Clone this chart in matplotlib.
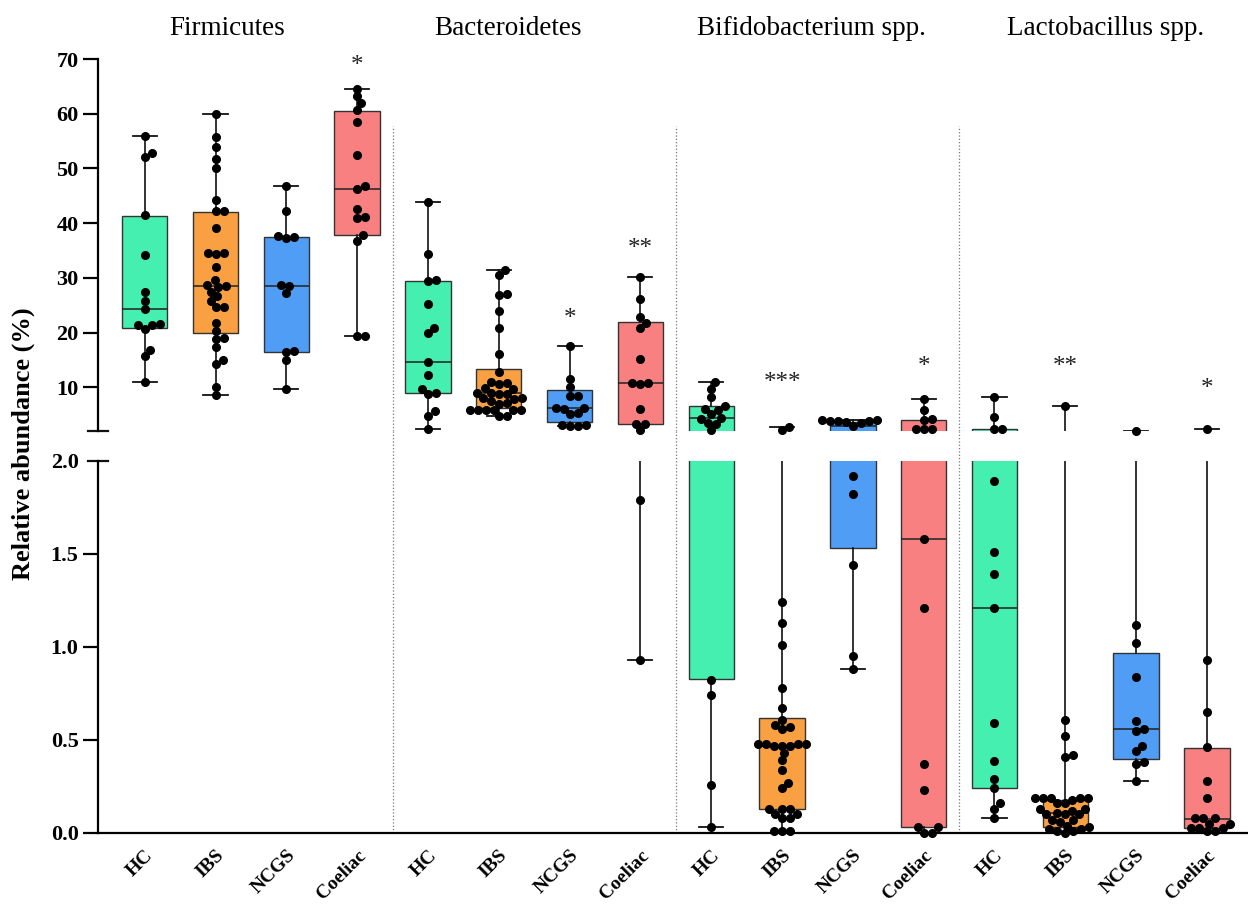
import numpy as np
import matplotlib
matplotlib.use('Agg')
import matplotlib.pyplot as plt
import matplotlib.transforms as mtransforms

plt.rcParams['font.family'] = 'serif'
plt.rcParams['font.serif'] = ['Liberation Serif', 'DejaVu Serif']

taxa = ['Firmicutes', 'Bacteroidetes', 'Bifidobacterium spp.', 'Lactobacillus spp.']
groups = ['HC', 'IBS', 'NCGS', 'Coeliac']
colors = ['#44EFB0', '#F9A042', '#4F9DF5', '#F98080']

# relative abundance (%) per subject
fir_hc = [55.9, 52.8, 52.1, 41.4, 34.1, 27.4, 25.7, 24.3, 21.5, 21.4, 21.3, 20.7, 16.9, 15.8, 10.9]
fir_ibs = [59.9, 55.7, 54.0, 51.7, 50.0, 44.3, 42.3, 42.2, 39.1, 34.5, 34.5, 34.4, 32.0, 29.6,
           28.7, 28.5, 28.3, 27.5, 26.6, 25.7, 24.7, 24.6, 21.8, 20.3, 19.0, 18.9, 17.4, 15.0,
           14.3, 10.1, 8.5]
fir_ncgs = [46.8, 42.3, 37.6, 37.4, 37.2, 28.7, 28.5, 27.2, 16.6, 16.4, 15.0, 9.7]
fir_coe = [64.6, 63.2, 61.9, 60.7, 58.5, 52.4, 46.8, 46.3, 42.6, 41.1, 41.0, 37.8, 36.8, 19.4, 19.3]

bac_hc = [43.8, 34.3, 29.6, 29.5, 25.3, 20.9, 19.9, 14.7, 12.3, 9.7, 8.9, 8.8, 5.6, 4.8, 2.3]
bac_ibs = [31.4, 30.5, 27.1, 26.9, 23.9, 20.9, 16.1, 12.7, 11.0, 10.8, 10.6, 9.9, 9.7, 9.0,
           8.9, 8.8, 8.8, 8.1, 8.0, 7.9, 7.5, 7.2, 7.0, 5.9, 5.9, 5.8, 5.8, 5.9, 5.8, 4.8, 4.7]
bac_ncgs = [17.6, 11.5, 10.0, 8.4, 8.4, 6.3, 6.2, 6.1, 5.3, 5.2, 3.1, 3.1, 3.0, 3.0]
bac_coe = [30.2, 26.2, 22.9, 21.8, 20.8, 15.1, 10.8, 10.7, 10.6, 6.0, 3.3, 3.2, 2.1, 1.79, 0.93]

bif_hc = [10.9, 9.7, 8.3, 6.5, 6.0, 5.8, 5.1, 4.4, 4.2, 3.5, 3.3, 2.2, 0.82, 0.74, 0.26, 0.03]
bif_ibs = [2.8, 2.2, 1.24, 1.13, 1.01, 0.78, 0.67, 0.61, 0.58, 0.57, 0.56, 0.48, 0.48, 0.48,
           0.47, 0.47, 0.47, 0.48, 0.43, 0.39, 0.34, 0.27, 0.24, 0.13, 0.13, 0.13, 0.10, 0.10,
           0.08, 0.08, 0.01, 0.01, 0.01]
bif_ncgs = [4.1, 4.1, 3.9, 3.9, 3.8, 3.6, 3.4, 2.9, 1.92, 1.82, 1.44, 0.95, 0.88]
bif_coe = [7.9, 5.85, 4.15, 4.1, 2.4, 2.4, 2.35, 1.58, 1.21, 0.37, 0.23, 0.03, 0.03, 0.0, 0.0]

lac_hc = [8.3, 4.6, 2.4, 2.35, 1.89, 1.51, 1.39, 1.21, 0.59, 0.385, 0.29, 0.24, 0.16, 0.13, 0.08]
lac_ibs = [6.6, 0.61, 0.52, 0.42, 0.41, 0.19, 0.19, 0.19, 0.19, 0.19, 0.18, 0.16, 0.16, 0.13,
           0.13, 0.12, 0.11, 0.10, 0.10, 0.10, 0.07, 0.07, 0.06, 0.04, 0.03, 0.02, 0.02, 0.01,
           0.01, 0.0]
lac_ncgs = [2.07, 1.12, 1.02, 0.84, 0.60, 0.56, 0.55, 0.47, 0.44, 0.38, 0.37, 0.28]
lac_coe = [2.37, 0.93, 0.65, 0.46, 0.28, 0.19, 0.08, 0.08, 0.08, 0.05, 0.05, 0.025, 0.025,
           0.025, 0.01, 0.01]

values = [fir_hc, fir_ibs, fir_ncgs, fir_coe,
          bac_hc, bac_ibs, bac_ncgs, bac_coe,
          bif_hc, bif_ibs, bif_ncgs, bif_coe,
          lac_hc, lac_ibs, lac_ncgs, lac_coe]

# box statistics as drawn (Prism quartiles, min-max whiskers)
box_q1 = [20.8, 20.0, 16.5, 37.9, 8.9, 6.3, 3.7, 3.2, 0.83, 0.13, 1.53, 0.03, 0.24, 0.03, 0.40, 0.025]
box_med = [24.3, 28.5, 28.6, 46.2, 14.7, 8.9, 6.2, 10.7, 4.3, 0.47, 2.9, 1.58, 1.21, 0.105, 0.56, 0.075]
box_q3 = [41.3, 42.0, 37.4, 60.5, 29.4, 13.3, 9.5, 22.0, 6.5, 0.62, 3.7, 4.0, 2.3, 0.18, 0.97, 0.455]
box_lo = [10.9, 8.5, 9.7, 19.3, 2.3, 4.7, 3.0, 0.93, 0.03, 0.0, 0.88, 0.0, 0.08, 0.0, 0.28, 0.01]
box_hi = [55.9, 59.9, 46.8, 64.6, 43.8, 31.4, 17.6, 30.2, 10.9, 2.8, 4.1, 7.9, 8.3, 6.6, 2.07, 2.37]

stars = ['', '', '', '*', '', '', '*', '**', '', '***', '', '*', '', '**', '', '*']
star_y = [0, 0, 0, 69.5, 0, 0, 23.2, 36.0, 0, 11.6, 0, 14.4, 0, 14.4, 0, 10.4]

title_x = [1.17, 5.13, 9.42, 13.57]

pos = np.arange(16)
fig = plt.figure(figsize=(12.48, 9.08), dpi=100)
ax_top = fig.add_axes([0.0785, 0.5253, 0.9215, 0.4097])
ax_bot = fig.add_axes([0.0785, 0.0826, 0.9215, 0.4097])

ax_top.set_xlim(-0.66, 15.58)
ax_bot.set_xlim(-0.66, 15.58)
ax_top.set_ylim(2, 70)
ax_bot.set_ylim(0, 2)

stats = [dict(med=box_med[i], q1=box_q1[i], q3=box_q3[i], whislo=box_lo[i],
              whishi=box_hi[i], fliers=[]) for i in range(16)]
for ax in (ax_top, ax_bot):
    bp = ax.bxp(stats, positions=pos, widths=0.64, patch_artist=True, showfliers=False,
                capwidths=0.34, manage_ticks=False,
                boxprops=dict(edgecolor='#333333', linewidth=1.0),
                medianprops=dict(color='#222222', linewidth=1.1),
                whiskerprops=dict(color='#111111', linewidth=1.2),
                capprops=dict(color='#111111', linewidth=1.3))
    for patch, c in zip(bp['boxes'], colors * 4):
        patch.set_facecolor(c)


def swarm_x(ax, x0, vals, d=7.6):
    vals = np.asarray(vals, dtype=float)
    if len(vals) == 0:
        return vals
    ypix = ax.transData.transform(np.column_stack([np.full(len(vals), x0), vals]))[:, 1]
    cand = sorted(range(-40, 41), key=lambda k: (abs(k), -k))
    placed = []
    offs = np.zeros(len(vals))
    for i in np.argsort(ypix):
        for c in cand:
            if all((c - px) ** 2 + (ypix[i] - py) ** 2 >= d * d for px, py in placed):
                break
        placed.append((c, ypix[i]))
        offs[i] = c
    sx = ax.transData.transform([(1, 0)])[0, 0] - ax.transData.transform([(0, 0)])[0, 0]
    return x0 + offs / sx


star_trans = mtransforms.offset_copy(ax_top.transData, fig=fig, x=0, y=-4, units='dots')
for i, v in enumerate(values):
    v = np.asarray(v)
    hi = v[v >= 2]
    lo = v[v < 2]
    ax_top.plot(swarm_x(ax_top, pos[i], hi), hi, 'o', color='black', ms=5.5, zorder=5, clip_on=False)
    ax_bot.plot(swarm_x(ax_bot, pos[i], lo), lo, 'o', color='black', ms=5.5, zorder=5, clip_on=False)
    if stars[i]:
        ax_top.text(pos[i], star_y[i], stars[i], ha='center', va='center', fontsize=18,
                    color='#222222', transform=star_trans)

# dotted separators between taxa
for xs in [3.5, 7.5, 11.5]:
    ax_top.axvline(xs, ymin=0, ymax=0.82, color='#777777', ls=':', lw=0.9)
    ax_bot.axvline(xs, ymin=0, ymax=1.08, color='#777777', ls=':', lw=0.9, clip_on=False)

for ax in (ax_top, ax_bot):
    for s in ['top', 'right']:
        ax.spines[s].set_visible(False)
    ax.spines['left'].set_linewidth(1.6)
    ax.tick_params(axis='y', length=11, width=1.6, labelsize=16, pad=3)
ax_top.spines['bottom'].set_visible(False)
ax_bot.spines['bottom'].set_linewidth(1.6)

ax_top.set_yticks([10, 20, 30, 40, 50, 60, 70])
ax_top.set_xticks([])
ax_bot.set_yticks([0.0, 0.5, 1.0, 1.5, 2.0])
ax_bot.set_yticklabels(['0.0', '0.5', '1.0', '1.5', '2.0'])
ax_bot.yaxis.get_major_ticks()[-1].tick1line.set_visible(False)
for ax in (ax_top, ax_bot):
    for lbl in ax.get_yticklabels():
        lbl.set_fontweight('bold')

# axis break marks
ax_top.plot([-0.0087, 0.0087], [0, 0], transform=ax_top.transAxes, color='#111111', lw=1.6, clip_on=False)
ax_bot.plot([-0.0087, 0.0087], [1, 1], transform=ax_bot.transAxes, color='#111111', lw=1.6, clip_on=False)

ax_bot.set_xticks(pos)
ax_bot.set_xticklabels(groups * 4, rotation=45, ha='right', rotation_mode='anchor',
                       fontweight='bold', fontsize=14)
ax_bot.tick_params(axis='x', length=0, pad=10)

trans = mtransforms.blended_transform_factory(ax_top.transData, fig.transFigure)
for tx, name in zip(title_x, taxa):
    ax_top.text(tx, 0.9615, name, transform=trans, ha='center', va='baseline', fontsize=19.5)

fig.text(0.0185, 0.511, 'Relative abundance (%)', rotation=90, ha='center', va='center',
         fontsize=19, fontweight='bold')

fig.savefig('out.png', dpi=100)
